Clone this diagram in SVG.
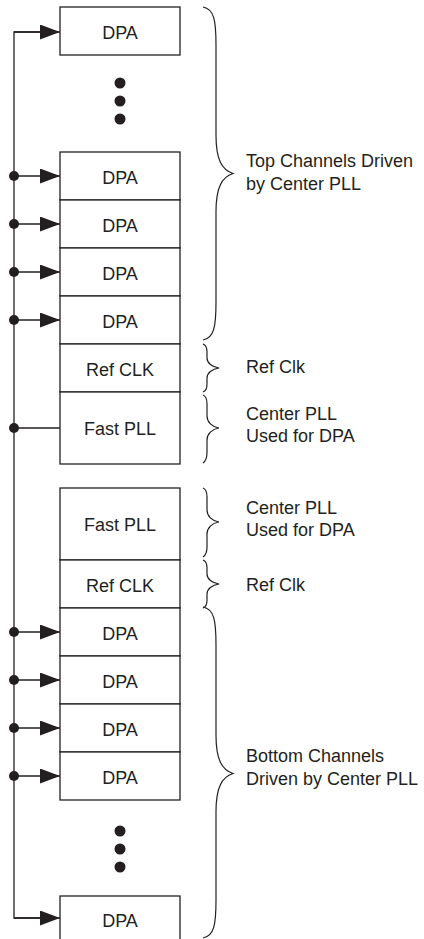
<svg xmlns="http://www.w3.org/2000/svg" width="424" height="939" viewBox="0 0 424 939">
<style>
.box rect{fill:#fff;stroke:#231f20;stroke-width:1.3}
text{font-family:"Liberation Sans",Arial,sans-serif;font-size:18px;fill:#231f20}
.c{text-anchor:middle}
.ln{fill:none;stroke:#231f20;stroke-width:1.3}
.br{fill:none;stroke:#231f20;stroke-width:1.2}
.dot{fill:#231f20}
</style>
<defs>
<marker id="ah" markerUnits="userSpaceOnUse" markerWidth="20" markerHeight="16" refX="20" refY="7.5" orient="auto">
<path d="M0,0 L20,7.5 L0,15 z" fill="#231f20"/>
</marker>
</defs>
<rect width="424" height="939" fill="#fff"/>
<g id="connectors">
<path class="ln" d="M40,32 H14 V918 H40"/>
<line class="ln" x1="14" y1="32" x2="60" y2="32" marker-end="url(#ah)"/>
<line class="ln" x1="14" y1="176" x2="60" y2="176" marker-end="url(#ah)"/>
<line class="ln" x1="14" y1="224" x2="60" y2="224" marker-end="url(#ah)"/>
<line class="ln" x1="14" y1="272" x2="60" y2="272" marker-end="url(#ah)"/>
<line class="ln" x1="14" y1="320" x2="60" y2="320" marker-end="url(#ah)"/>
<line class="ln" x1="14" y1="428" x2="60" y2="428"/>
<line class="ln" x1="14" y1="632" x2="60" y2="632" marker-end="url(#ah)"/>
<line class="ln" x1="14" y1="680" x2="60" y2="680" marker-end="url(#ah)"/>
<line class="ln" x1="14" y1="728" x2="60" y2="728" marker-end="url(#ah)"/>
<line class="ln" x1="14" y1="776" x2="60" y2="776" marker-end="url(#ah)"/>
<line class="ln" x1="14" y1="918" x2="60" y2="918" marker-end="url(#ah)"/>
<circle class="dot" cx="14" cy="176" r="5"/>
<circle class="dot" cx="14" cy="224" r="5"/>
<circle class="dot" cx="14" cy="272" r="5"/>
<circle class="dot" cx="14" cy="320" r="5"/>
<circle class="dot" cx="14" cy="428" r="5"/>
<circle class="dot" cx="14" cy="632" r="5"/>
<circle class="dot" cx="14" cy="680" r="5"/>
<circle class="dot" cx="14" cy="728" r="5"/>
<circle class="dot" cx="14" cy="776" r="5"/>
</g>
<g id="dpa-top-1" class="box"><rect x="60" y="7" width="120" height="48"/><text class="c" x="120" y="38.5">DPA</text></g>
<g id="ellipsis-top"><circle class="dot" cx="120" cy="83" r="5.5"/><circle class="dot" cx="120" cy="101" r="5.5"/><circle class="dot" cx="120" cy="119" r="5.5"/></g>
<g id="dpa-top-2" class="box"><rect x="60" y="152" width="120" height="48"/><text class="c" x="120" y="183.5">DPA</text></g>
<g id="dpa-top-3" class="box"><rect x="60" y="200" width="120" height="48"/><text class="c" x="120" y="231.5">DPA</text></g>
<g id="dpa-top-4" class="box"><rect x="60" y="248" width="120" height="48"/><text class="c" x="120" y="279.5">DPA</text></g>
<g id="dpa-top-5" class="box"><rect x="60" y="296" width="120" height="48"/><text class="c" x="120" y="327.5">DPA</text></g>
<g id="refclk-top" class="box"><rect x="60" y="344" width="120" height="48"/><text class="c" x="120" y="376">Ref CLK</text></g>
<g id="fastpll-top" class="box"><rect x="60" y="392" width="120" height="72"/><text class="c" x="120" y="434.5">Fast PLL</text></g>
<g id="fastpll-bottom" class="box"><rect x="60" y="488" width="120" height="72"/><text class="c" x="120" y="530.5">Fast PLL</text></g>
<g id="refclk-bottom" class="box"><rect x="60" y="560" width="120" height="48"/><text class="c" x="120" y="592">Ref CLK</text></g>
<g id="dpa-bottom-1" class="box"><rect x="60" y="608" width="120" height="48"/><text class="c" x="120" y="639.5">DPA</text></g>
<g id="dpa-bottom-2" class="box"><rect x="60" y="656" width="120" height="48"/><text class="c" x="120" y="687.5">DPA</text></g>
<g id="dpa-bottom-3" class="box"><rect x="60" y="704" width="120" height="48"/><text class="c" x="120" y="735.5">DPA</text></g>
<g id="dpa-bottom-4" class="box"><rect x="60" y="752" width="120" height="48"/><text class="c" x="120" y="783.5">DPA</text></g>
<g id="ellipsis-bottom"><circle class="dot" cx="120" cy="831" r="5.5"/><circle class="dot" cx="120" cy="849" r="5.5"/><circle class="dot" cx="120" cy="867" r="5.5"/></g>
<g id="dpa-bottom-5" class="box"><rect x="60" y="896" width="120" height="48"/><text class="c" x="120" y="927">DPA</text></g>
<g id="brace-top">
<path class="br" d="M203,7 C214,9 216,20 216,45 L216,135 C216,160 222,170 233,173.5 C222,177 216,187 216,212 L216,302 C216,327 214,338 203,340"/>
<text x="246" y="167">Top Channels Driven</text>
<text x="246" y="189.5">by Center PLL</text>
</g>
<g id="brace-refclk-top">
<path class="br" d="M203,344 C206,345 207,348 207,352 L207,358 C207,363 212,367 219,368 C212,369 207,373 207,378 L207,384 C207,388 206,391 203,392"/>
<text x="246" y="373">Ref Clk</text>
</g>
<g id="brace-fastpll-top">
<path class="br" d="M203,395 C206,396 207,399 207,404 L207,416 C207,422 212,427 219,428 C212,429 207,434 207,440 L207,452 C207,457 206,461 203,463"/>
<text x="246" y="420">Center PLL</text>
<text x="246" y="442">Used for DPA</text>
</g>
<g id="brace-fastpll-bottom">
<path class="br" d="M203,488 C206,489 207,492 207,497 L207,510 C207,516 212,521 219,522 C212,523 207,528 207,534 L207,547 C207,552 206,555 203,557"/>
<text x="246" y="514">Center PLL</text>
<text x="246" y="536">Used for DPA</text>
</g>
<g id="brace-refclk-bottom">
<path class="br" d="M203,560 C206,561 207,564 207,568 L207,574 C207,579 212,583 219,584 C212,585 207,589 207,594 L207,600 C207,604 206,607 203,608"/>
<text x="246" y="591">Ref Clk</text>
</g>
<g id="brace-bottom">
<path class="br" d="M203,607 C214,609 216,620 216,645 L216,735 C216,760 222,770 233,773.5 C222,777 216,787 216,812 L216,900 C216,925 214,936 203,938"/>
<text x="246" y="762">Bottom Channels</text>
<text x="246" y="784.5">Driven by Center PLL</text>
</g>
</svg>
